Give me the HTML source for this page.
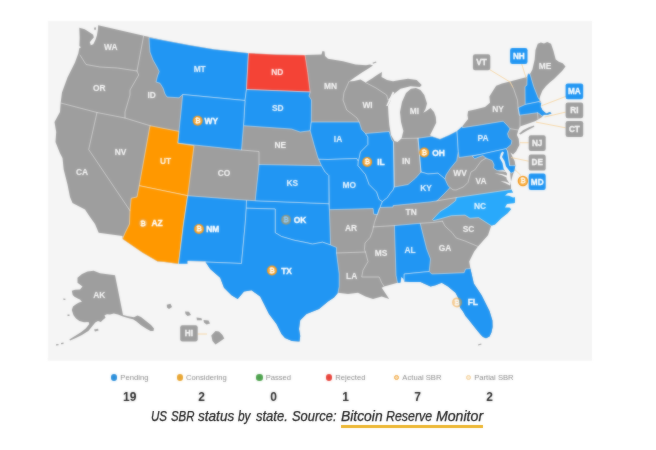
<!DOCTYPE html>
<html lang="en"><head><meta charset="utf-8"><title>US SBR status by state</title>
<style>

html,body{margin:0;padding:0;background:#fff;}
body{width:656px;height:450px;position:relative;overflow:hidden;font-family:"Liberation Sans",sans-serif;}
.map{position:absolute;left:0;top:0;width:656px;height:450px;}
.map svg{display:block;}
.soft{filter:url(#soft);}
.st{font:bold 8.4px "Liberation Sans",sans-serif;fill:#fff;text-anchor:middle;stroke:#fff;stroke-width:.35px;}
.sg{fill-opacity:.88;stroke-opacity:.35;}
.bx{font:bold 8.2px "Liberation Sans",sans-serif;fill:#fff;text-anchor:middle;stroke:#fff;stroke-width:.3px;}
.bt{font:bold 6.8px "Liberation Sans",sans-serif;fill:#fff;text-anchor:middle;}
.bd{fill:none;stroke:#fff;stroke-width:.55;stroke-opacity:.8;stroke-linejoin:round;stroke-linecap:round;}
.cs{stroke:#fff;stroke-width:.55;stroke-opacity:.8;stroke-linejoin:round;}
.cn{fill:none;stroke:#f6cf94;stroke-width:.8;}
.legend{filter:url(#soft);}
.caption{filter:url(#soft2);-webkit-text-stroke:.25px #222;}
.legend{position:absolute;left:93.7px;top:371px;width:432px;height:36px;display:flex;}
.legend .it{width:72px;text-align:center;}
.legend .lb{font-size:7.65px;line-height:13px;height:13px;color:#8c8c8c;white-space:nowrap;display:flex;align-items:center;justify-content:center;}
.legend .dot{display:inline-block;width:6.4px;height:6.4px;border-radius:50%;margin-right:3px;flex:none;}
.legend .ring{display:inline-block;width:3.4px;height:3.4px;border-radius:50%;border:1.7px solid;margin-right:3px;flex:none;background:#fff;}
.legend .ct{font-weight:bold;font-size:12px;line-height:14px;color:#222;margin-top:5.6px;}
.caption{position:absolute;left:0;top:405.4px;width:656px;height:24px;margin:0;font-style:italic;font-size:14px;line-height:22px;color:#222;white-space:nowrap;}
.caption .w{position:absolute;top:0;transform-origin:0 50%;display:block;}
.caption a{color:#222;text-decoration:none;}
.caption .ul{position:absolute;left:341.2px;top:19.8px;width:142.2px;height:2.6px;background:#ecb52e;display:block;}

</style></head><body>
<div class="map">
<svg width="656" height="450" viewBox="0 0 656 450">
<defs><clipPath id="us"><path d="M79.3 27.8 L84.7 29.2 L89.5 32.2 L93.2 34.8 L93.8 37.5 L91.5 40 L89.8 42.3 L90.8 45.2 L93.3 44.2 L95.4 40 L96.9 35.6 L97.9 29.7 L98.2 25.3 L143.7 35.7 L164 40.3 L189 45 L214 49.2 L247.7 53 L276.5 54.5 L305 55 L321.5 54.5 L322.5 51 L324.5 51.5 L325 56 L328 58.7 L343 61.2 L355.5 64.5 L366 65.2 L370 64.6 L373 65.4 L368 68.8 L362 72.5 L355 77.2 L349 81.5 L354 81 L360.5 79.5 L365.5 82.5 L372 78.5 L377 75 L382 72 L381.5 77 L387 80 L393 81.2 L400 80 L408 78.7 L416.7 80 L421.7 85 L420 87 L410.5 86.2 L400.5 88.7 L395 93 L391.7 96.2 L388 100 L391 100 L389.5 103 L388 106 L388.5 115 L389.3 125 L391 135 L394.5 141 L397.5 142 L401.5 138.5 L403.4 131 L401 122 L400 112 L402 102 L406 93 L411 88.8 L416 88 L420.5 90 L424.3 95 L427 103.5 L425.5 109 L423.3 112.8 L426 111.3 L430.5 108 L434 112 L435.8 117 L436.2 122.7 L432.5 130.2 L430 135.2 L432.5 136.5 L440 139 L448.7 135.2 L456.9 130.9 L462.5 125.9 L468.1 119 L467.5 115.2 L468.1 110.9 L475 109.6 L485 107.1 L490 102.7 L489.4 96.5 L492.5 91.5 L496.2 85.8 L502 83.5 L510 81.5 L526.9 77.1 L528.1 73.4 L530 74 L532.4 69.5 L534.7 59.4 L535.5 50 L537.8 43.8 L540.9 42.5 L544 43.5 L547.2 41.9 L551 43.8 L553.4 50.8 L555.7 59.4 L558.8 61.7 L562.7 63.3 L565.5 66.4 L562.5 70.5 L558 75 L554 79 L550 82.2 L546 86 L542.3 90.8 L540.2 96 L539.5 98.7 L540 100.2 L541.2 102.7 L540.6 106.5 L542.5 110.2 L546.2 113.4 L550 112 L551.5 113.4 L547.5 114.8 L543.7 114.8 L542 117 L538.1 119.4 L535 121.2 L520 126.5 L518.5 129.5 L516.9 135 L518.7 138.7 L519.4 145 L516.2 151.2 L513.1 154.4 L508.7 151.2 L507.2 149 L508.5 148.7 L511 153.7 L514.7 161.2 L515.4 165.6 L514.5 170 L512.5 176 L511 181.5 L511 185 L511 188.7 L515 197 L515 202 L511.2 208.9 L507.5 213.2 L501.2 218.2 L495 224.5 L491.2 225.7 L488 235.2 L478 246.5 L474.2 251.5 L469.2 261.5 L470.5 269 L473.8 283.5 L481.6 295.3 L489.5 311 L492.4 320.5 L492.6 327 L491.4 332.5 L489.5 336.5 L486 338.2 L483 337 L480.5 334.5 L476.8 330 L472.8 325 L468.5 319.5 L465.5 316 L463 311.5 L460 307.5 L458.8 299 L455.5 292.7 L448 286.5 L441.7 282.7 L435.5 285.2 L430.5 286.5 L420.5 282 L410.5 282 L404.2 281.5 L402.5 278 L400.5 282.7 L397.5 282.7 L384.2 286.5 L381.7 287.7 L384.2 291.5 L389.2 299 L381.7 296.5 L373 299 L365.5 296.5 L358 292.7 L348 294 L338 292.7 L334 297.5 L328 301.5 L319 309 L306.5 314 L300.2 320.2 L299 329 L300.2 336 L299.5 341.5 L292 341 L285 338 L281.5 334 L276.5 324 L269 314 L264 304 L260.2 296.5 L251.5 290.2 L244 291.5 L237.7 299 L231.5 295.2 L224 287.7 L220.2 277.7 L210.2 269 L205.2 261.5 L187.7 261 L187.5 264 L178.5 264 L164 262 L157.5 261.5 L142.5 252.7 L122.5 239 L122.5 236 L98.7 232.7 L95 224 L90 217 L85 209.5 L72.5 203 L70 197 L67.5 184.5 L63.7 169.5 L62.5 158 L60 153.2 L55.5 142 L56.2 132 L54.5 122 L60 112 L60.7 102.5 L62 92.5 L67.5 77.5 L75 62.5 L78.3 53.5 L79.3 48.3 L81 47.2 L79.4 46 L79.7 37.5Z"/></clipPath><filter id="soft" x="-2%" y="-2%" width="104%" height="104%" color-interpolation-filters="sRGB"><feGaussianBlur in="SourceGraphic" stdDeviation="0.85" result="b"/><feComposite in="SourceGraphic" in2="b" operator="arithmetic" k1="0" k2="0.5" k3="0.5" k4="0"/></filter><filter id="soft2" x="-2%" y="-20%" width="104%" height="140%" color-interpolation-filters="sRGB"><feGaussianBlur in="SourceGraphic" stdDeviation="0.85" result="b"/><feComposite in="SourceGraphic" in2="b" operator="arithmetic" k1="0" k2="0.72" k3="0.28" k4="0"/></filter></defs>
<g class="soft">
<rect x="47.8" y="20.9" width="544.2" height="339.9" fill="#f5f5f5"/>
<g fill="#9e9e9e">
<path d="M79.3 27.8 L84.7 29.2 L89.5 32.2 L93.2 34.8 L93.8 37.5 L91.5 40 L89.8 42.3 L90.8 45.2 L93.3 44.2 L95.4 40 L96.9 35.6 L97.9 29.7 L98.2 25.3 L143.7 35.7 L164 40.3 L189 45 L214 49.2 L247.7 53 L276.5 54.5 L305 55 L321.5 54.5 L322.5 51 L324.5 51.5 L325 56 L328 58.7 L343 61.2 L355.5 64.5 L366 65.2 L370 64.6 L373 65.4 L368 68.8 L362 72.5 L355 77.2 L349 81.5 L354 81 L360.5 79.5 L365.5 82.5 L372 78.5 L377 75 L382 72 L381.5 77 L387 80 L393 81.2 L400 80 L408 78.7 L416.7 80 L421.7 85 L420 87 L410.5 86.2 L400.5 88.7 L395 93 L391.7 96.2 L388 100 L391 100 L389.5 103 L388 106 L388.5 115 L389.3 125 L391 135 L394.5 141 L397.5 142 L401.5 138.5 L403.4 131 L401 122 L400 112 L402 102 L406 93 L411 88.8 L416 88 L420.5 90 L424.3 95 L427 103.5 L425.5 109 L423.3 112.8 L426 111.3 L430.5 108 L434 112 L435.8 117 L436.2 122.7 L432.5 130.2 L430 135.2 L432.5 136.5 L440 139 L448.7 135.2 L456.9 130.9 L462.5 125.9 L468.1 119 L467.5 115.2 L468.1 110.9 L475 109.6 L485 107.1 L490 102.7 L489.4 96.5 L492.5 91.5 L496.2 85.8 L502 83.5 L510 81.5 L526.9 77.1 L528.1 73.4 L530 74 L532.4 69.5 L534.7 59.4 L535.5 50 L537.8 43.8 L540.9 42.5 L544 43.5 L547.2 41.9 L551 43.8 L553.4 50.8 L555.7 59.4 L558.8 61.7 L562.7 63.3 L565.5 66.4 L562.5 70.5 L558 75 L554 79 L550 82.2 L546 86 L542.3 90.8 L540.2 96 L539.5 98.7 L540 100.2 L541.2 102.7 L540.6 106.5 L542.5 110.2 L546.2 113.4 L550 112 L551.5 113.4 L547.5 114.8 L543.7 114.8 L542 117 L538.1 119.4 L535 121.2 L520 126.5 L518.5 129.5 L516.9 135 L518.7 138.7 L519.4 145 L516.2 151.2 L513.1 154.4 L508.7 151.2 L507.2 149 L508.5 148.7 L511 153.7 L514.7 161.2 L515.4 165.6 L514.5 170 L512.5 176 L511 181.5 L511 185 L511 188.7 L515 197 L515 202 L511.2 208.9 L507.5 213.2 L501.2 218.2 L495 224.5 L491.2 225.7 L488 235.2 L478 246.5 L474.2 251.5 L469.2 261.5 L470.5 269 L473.8 283.5 L481.6 295.3 L489.5 311 L492.4 320.5 L492.6 327 L491.4 332.5 L489.5 336.5 L486 338.2 L483 337 L480.5 334.5 L476.8 330 L472.8 325 L468.5 319.5 L465.5 316 L463 311.5 L460 307.5 L458.8 299 L455.5 292.7 L448 286.5 L441.7 282.7 L435.5 285.2 L430.5 286.5 L420.5 282 L410.5 282 L404.2 281.5 L402.5 278 L400.5 282.7 L397.5 282.7 L384.2 286.5 L381.7 287.7 L384.2 291.5 L389.2 299 L381.7 296.5 L373 299 L365.5 296.5 L358 292.7 L348 294 L338 292.7 L334 297.5 L328 301.5 L319 309 L306.5 314 L300.2 320.2 L299 329 L300.2 336 L299.5 341.5 L292 341 L285 338 L281.5 334 L276.5 324 L269 314 L264 304 L260.2 296.5 L251.5 290.2 L244 291.5 L237.7 299 L231.5 295.2 L224 287.7 L220.2 277.7 L210.2 269 L205.2 261.5 L187.7 261 L187.5 264 L178.5 264 L164 262 L157.5 261.5 L142.5 252.7 L122.5 239 L122.5 236 L98.7 232.7 L95 224 L90 217 L85 209.5 L72.5 203 L70 197 L67.5 184.5 L63.7 169.5 L62.5 158 L60 153.2 L55.5 142 L56.2 132 L54.5 122 L60 112 L60.7 102.5 L62 92.5 L67.5 77.5 L75 62.5 L78.3 53.5 L79.3 48.3 L81 47.2 L79.4 46 L79.7 37.5Z"/>
<path d="M519 133.8 L523 130.3 L529 127.3 L534 125.4 L534.3 126.8 L527 130.6 L520.5 134.4Z"/>
<path d="M77.5 277.7 L82 274 L87.5 271.5 L93.7 270.7 L100 273.2 L115 275.2 L118 290 L123 315 L128 316.3 L134 317.3 L137.5 315.5 L141 317 L146 321 L151 325 L154 328.5 L153.5 331 L150.5 331 L146 328.5 L141 325.3 L136.5 321.5 L133 319.3 L128 318 L123 316.6 L118 314.5 L113.8 313.5 L110 314.5 L107 314.3 L104.5 315.3 L105.5 317.8 L102.8 320 L100.8 322 L98 321 L95.3 322.5 L92 326.5 L88.6 330.8 L81.9 335 L75.2 338.3 L70.1 340.6 L69.3 339.4 L75 336 L81 332.3 L86 328.3 L89.3 324 L88.6 321.9 L84 322.2 L79.4 321 L76 318.5 L73.5 315.2 L71.8 310.1 L73 306.5 L76 304.3 L79 302.5 L81.9 301.7 L80 299.5 L77.7 298.4 L74.5 296.8 L72.7 295 L71.8 290.8 L75 289.8 L80 289.5 L82.5 286.5 L77.5 282.7Z"/>
<path d="M166.8 304.8 L170.5 303.8 L172 307 L169 309 L167 307.5Z"/>
<path d="M185 311.5 L189 311.8 L191 315 L187.5 316 L185.5 314Z"/>
<path d="M196.5 317.5 L201.5 318.2 L202 320.3 L197 320.2Z"/>
<path d="M203.5 320 L208.5 320.5 L210 323.5 L206.5 324.5 L204 322.5Z"/>
<path d="M215.5 331 L219 331.5 L222.5 335 L224.3 338.5 L220 341.5 L215.5 344.5 L212.5 341 L211.3 335.5Z"/>
<path d="M94 27.8 L95.8 27.3 L96.1 29.4 L94.5 29.9Z"/>
<path d="M372.5 62.8 L376 61.5 L376.5 62.5 L373 63.8Z"/>
<path d="M94 329.6 L98 328.8 L98.6 330.6 L95 331.6Z"/>
<path d="M67.5 314.5 L69.5 314.5 L69.5 316 L67.5 316Z"/>
<path d="M63.3 298.6 L65.5 298.8 L65.3 300 L63.3 299.8Z"/>
<path d="M61 343 L63.5 342.6 L63.5 344 L61 344.2Z"/>
<path d="M56 344.3 L58.5 344 L58.5 345.2 L56 345.4Z"/>
<path d="M478 344.6 L481.2 343.4 L481.5 344.6 L478.3 345.6Z"/>
</g>
<g clip-path="url(#us)">
<path class="cs" fill="#2196f3" d="M149 37.5 L164 40.3 L189 45 L214 49.2 L248.5 53 L246.5 89.5 L245 100.5 L182.7 94.5 L179 97.8 L167 97 L165 94 L163 88 L160 83.2 L156 82 L157.5 76 L159.2 71.5 L157 67 L153 60 L150 52 L149.4 45Z"/>
<path class="cs" fill="#f44336" d="M248.5 53 L276.5 54.5 L305 55 L307.7 72.5 L310 91 L310.2 92 L246.5 89.5Z"/>
<path class="cs" fill="#2196f3" d="M246.5 89.5 L310.2 92 L309 96 L311.5 100 L311.3 122 L310.2 130.7 L300.2 132 L291.5 129 L243.5 125.7 L245 100.5Z"/>
<path class="cs" fill="#2196f3" d="M182.7 94.5 L245 100.5 L243.5 125.7 L241.5 150 L177.7 143.2 L181 112Z"/>
<path class="cs" fill="#ff9800" d="M150 125.7 L164 128.5 L178.9 131.4 L177.7 143.2 L194 145.7 L187.7 195.7 L139.2 185.7Z"/>
<path class="cs" fill="#ff9800" d="M139.2 185.7 L187.7 195.7 L183.5 224 L178.5 264 L164 262 L157.5 261.5 L142.5 252.7 L122.5 239 L125 233 L129.5 224 L130 210.7 L131.2 198.2 L137 197Z"/>
<path class="cs" fill="#2196f3" d="M187.7 195.7 L246.5 200.2 L246.3 208.2 L245.2 224 L241.5 263.5 L205.2 262 L205.2 261.5 L187.7 261 L187.5 264 L178.5 264 L183.5 224Z"/>
<path class="cs" fill="#2196f3" d="M246.5 200.2 L255.2 200.7 L329 203.7 L329.4 209.7 L330.6 245 L322.5 242.2 L312.5 244.1 L306.5 242.7 L294 240.2 L281.5 236.5 L275.2 232.7 L275.2 209 L246.3 208.2Z"/>
<path class="cs" fill="#2196f3" d="M246.3 208.2 L275.2 209 L275.2 232.7 L281.5 236.5 L294 240.2 L306.5 242.7 L312.5 244.1 L322.5 242.2 L330.6 245 L336.5 247.5 L336.5 253 L337 257 L339.2 274 L339.2 286.5 L338 292.7 L338 300 L320 330 L300 350 L280 345 L260 310 L237 305 L215 282 L200 265 L205.2 261.5 L205.2 262 L241.5 263.5 L245.2 224Z"/>
<path class="cs" fill="#2196f3" d="M259 164.5 L321.5 165.7 L325.2 172 L328 174.5 L329 175.5 L329 203.7 L255.2 200.7Z"/>
<path class="cs" fill="#2196f3" d="M311.3 122 L359.2 122 L361.7 129.5 L365.5 133.5 L368 137 L368 144.5 L360.5 152 L359.2 158.2 L358.3 161.5 L356.7 158.5 L328 159.5 L318.7 159.3 L317.7 157 L314 144.5 L310.2 130.7Z"/>
<path class="cs" fill="#2196f3" d="M318.7 159.3 L328 159.5 L356.7 158.5 L358.3 161.5 L358 165.7 L365.5 174.5 L369.2 184.5 L376.7 192 L379.2 199.5 L382.5 201.5 L380 207.5 L379.4 208.5 L377.5 214.7 L373.7 214.1 L373.1 208.5 L329.4 209.7 L329 175.5 L328 174.5 L325.2 172 L321.5 165.7Z"/>
<path class="cs" fill="#2196f3" d="M365.5 133.5 L389.2 131.5 L391.7 139.5 L393.5 142 L394.2 184.5 L394.2 187 L393.1 190 L390 193.7 L387.5 197.5 L382.5 201.5 L379.2 199.5 L376.7 192 L369.2 184.5 L365.5 174.5 L358 165.7 L358.3 161.5 L359.2 158.2 L360.5 152 L368 144.5 L368 137Z"/>
<path class="cs" fill="#2196f3" d="M418 138.2 L430.5 136.5 L432.5 136.5 L440 139 L448.7 135.2 L457 130.9 L458.3 151.5 L457.5 156 L456.7 160.7 L450.5 168.2 L446 175 L445 179 L438 173.2 L428 174 L421 172Z"/>
<path class="cs" fill="#2196f3" d="M393.1 190 L394.2 187 L408 184.5 L415.5 178.2 L421 172 L428 174 L438 173.2 L445 179 L448 185.7 L450 187.6 L444 194 L437 200.8 L430 201.9 L393.1 205.6 L393.1 207 L380 207.5 L382.5 201.5 L387.5 197.5 L390 193.7Z"/>
<path class="cs" fill="#2196f3" d="M457 130.9 L462.5 125.9 L462.5 127.7 L480 125 L503.1 121.2 L506.9 125 L510 128.7 L507.5 133.7 L508.7 137.5 L511.9 140.6 L511.2 144.4 L506.2 148.7 L481 154.4 L459.1 157.5 L458.3 151.5Z"/>
<path class="cs" fill="#2196f3" d="M472.2 156.2 L506 148.7 L507.5 151 L509.7 165.6 L515.4 165.6 L516 171 L511.5 173 L508.5 171.9 L504.7 170 L497.2 170.6 L493.5 168.1 L494.1 165 L492.2 160.6 L486 158.1 L482.9 155.6 L479.1 156.9 L474.7 158.7Z"/>
<path class="cs" fill="#29a9fb" d="M456.2 197.6 L511.2 189.5 L520 192 L520 205 L500 228 L491.2 225.7 L478.7 217.6 L470 218.2 L465 215.1 L451.2 215.7 L440 218.9 L433.7 220.6 L432.5 219.5 L440 211.5 L447.5 207 L455.6 200.7Z"/>
<path class="cs" fill="#2196f3" d="M394.4 225.6 L420.2 223.3 L426.7 249 L430.5 259 L429.2 271.5 L404.2 274 L404.2 286 L397.5 286 L397.5 282.7 L396 275.2Z"/>
<path class="cs" fill="#2196f3" d="M404.2 274 L429.2 271.5 L431.7 274 L464.2 272.7 L465.5 269 L470.5 268.5 L500 270 L500 345 L404.2 345Z"/>
<path class="cs" fill="#2196f3" d="M528.1 73.4 L530 74 L533.7 86.5 L538.1 97.7 L540 100.2 L538.7 101.7 L525.2 104.5 L525 86.5 L526.9 85.2 L527.2 76.5Z"/>
<path class="cs" fill="#2196f3" d="M518.1 107.7 L525.2 104.5 L538.7 101.7 L541.2 102.7 L545 104 L553 111 L553 116 L543.7 116 L542 116 L539 113.5 L537.5 112.7 L519.4 115.2Z"/>
<path class="bd" d="M80 55 L86 64.5 L100 67 L117.5 68 L137 71"/>
<path class="bd" d="M143.7 35.7 L137 71 L138.7 75 L130 90 L130 95 L125 112 L125 118"/>
<path class="bd" d="M60.7 103 L87.5 110 L97 112.5 L125 118 L150 125.7"/>
<path class="bd" d="M97 112.5 L88.7 149.5 L130 210.7"/>
<path class="bd" d="M241.5 150 L259 151.5 L259 164.5"/>
<path class="bd" d="M349 81.5 L344 92.5 L343 100 L346.7 110 L352 114 L357 118 L359.2 122"/>
<path class="bd" d="M365.5 82.5 L376 88 L386.7 95 L388 100"/>
<path class="bd" d="M401.5 138.5 L418 138.2"/>
<path class="bd" d="M418 138.2 L421 172"/>
<path class="bd" d="M393.5 142 L394.2 187"/>
<path class="bd" d="M336.5 253 L365.5 252"/>
<path class="bd" d="M379.4 208.5 L377.5 213.7 L374.4 222.5 L372.5 231.2 L370 237.5 L365 243 L364.4 249.7 L365.5 252 L368 261.5 L363 270.2 L361.7 277 L379.2 277 L381.7 282.7 L384.2 286.5"/>
<path class="bd" d="M373.1 226.9 L394.4 225.6"/>
<path class="bd" d="M420.2 223.3 L432.5 222.5 L442.5 221.2"/>
<path class="bd" d="M442.5 221.2 L445 226.2 L452 232.5 L456.2 238 L465 241 L478 246.5"/>
<path class="bd" d="M437 200.8 L456.2 197.6"/>
<path class="bd" d="M450 187.6 L453 189.8 L456 190 L463.5 186.9 L467.9 182.5 L471 171.9 L474.7 170 L481 161.2 L486 158.1"/>
<path class="bd" d="M510 81.5 L513.7 89 L517.5 100.2 L518.1 107.7 L519.4 115.2 L520 116.5 L520 126.5"/>
<path class="bd" d="M510 128.7 L518.1 130"/>
<path class="bd" d="M537.5 112.7 L538.1 119.4"/>
<path class="bd" d="M507.5 151 L509.7 165.6"/>
</g>
<g fill="#f5f5f5">
<path d="M502.3 151.5 L504 152.5 L502 157 L504.5 161 L506 166.5 L510 171.5 L510.5 177 L511 181.5 L510.3 184.5 L506.5 179 L507 173.5 L503.5 168.5 L502.5 163 L499.7 158 L500.8 153.5Z"/>
<path d="M508.3 172.5 L503 170.3 L498 171.3 L503 171.6Z"/>
<path d="M392.8 91.5 L390.5 96.5 L388.3 101 L386.2 106 L387.6 106 L390 102 L392.3 97.5 L394.3 92.5Z"/>
<path d="M508.3 176 L502 174 L494.5 173.2 L502 175.2 L507.5 178Z"/>
<path d="M510.5 183.6 L505 181.6 L500.5 181.2 L505 183 L510 185.5Z"/>
<path d="M401.3 277 L403.5 279 L404.2 283 L400.5 283.5Z"/>
<path d="M516 192.5 L508 193 L505 195.5 L509 195.8 L513 197.5 L516 197Z"/>
<path d="M515.5 203 L507 204 L505 207.5 L509.5 207.5 L511.5 209.5Z"/>
</g>
<path class="cn" d="M490 69.8 L510 82 L513 87.5"/>
<path class="cn" d="M521.7 64 L526.3 78.5"/>
<path class="cn" d="M565.6 96.5 L541.7 105.7"/>
<path class="cn" d="M565.6 112.1 L544.5 117.1"/>
<path class="cn" d="M565.6 127.8 L536 122.1"/>
<path class="cn" d="M528.7 142.7 L520 142.7"/>
<path class="cn" d="M528.7 161.2 L511 157.5"/>
<path class="cn" d="M521 175.5 L514.7 169.4"/>
<path class="cn" d="M197.7 334 L207 334"/>
<rect x="472.9" y="54.2" width="17.4" height="16.1" rx="2.2" ry="2.2" fill="#9e9e9e"/>
<text class="bx" x="481.6" y="65.15" fill-opacity=".88">VT</text>
<rect x="510.1" y="48" width="17.4" height="16" rx="2.2" ry="2.2" fill="#2196f3"/>
<text class="bx" x="518.8" y="58.9">NH</text>
<rect x="565.6" y="83.4" width="17.6" height="15.9" rx="2.2" ry="2.2" fill="#2196f3"/>
<text class="bx" x="574.4" y="94.25">MA</text>
<rect x="565.6" y="102.5" width="17.6" height="15.8" rx="2.2" ry="2.2" fill="#9e9e9e"/>
<text class="bx" x="574.4" y="113.3" fill-opacity=".88">RI</text>
<rect x="565.6" y="121.1" width="17.6" height="15.9" rx="2.2" ry="2.2" fill="#9e9e9e"/>
<text class="bx" x="574.4" y="131.95" fill-opacity=".88">CT</text>
<rect x="528.7" y="135.3" width="17" height="15.7" rx="2.2" ry="2.2" fill="#9e9e9e"/>
<text class="bx" x="537.2" y="146.05" fill-opacity=".88">NJ</text>
<rect x="528.7" y="154.5" width="17" height="16.1" rx="2.2" ry="2.2" fill="#9e9e9e"/>
<text class="bx" x="537.2" y="165.45" fill-opacity=".88">DE</text>
<rect x="528.7" y="173.6" width="17" height="16.3" rx="2.2" ry="2.2" fill="#2196f3"/>
<text class="bx" x="537.2" y="184.65">MD</text>
<rect x="180.2" y="325.2" width="17.5" height="16.3" rx="2.2" ry="2.2" fill="#9e9e9e"/>
<text class="bx" x="188.95" y="336.25" fill-opacity=".88">HI</text>
<text class="st sg" x="110.7" y="49.7">WA</text>
<text class="st sg" x="99.2" y="91">OR</text>
<text class="st sg" x="151.7" y="97.5">ID</text>
<text class="st sg" x="199.7" y="72.2">MT</text>
<text class="st sg" x="277.2" y="75">ND</text>
<text class="st sg" x="277.7" y="111">SD</text>
<text class="st sg" x="120.5" y="155">NV</text>
<text class="st sg" x="82" y="175">CA</text>
<text class="st sg" x="165.5" y="163.7">UT</text>
<text class="st sg" x="224" y="175.7">CO</text>
<text class="st sg" x="280.2" y="147.5">NE</text>
<text class="st sg" x="292.2" y="186.2">KS</text>
<text class="st sg" x="330.5" y="89.2">MN</text>
<text class="st sg" x="367.5" y="108">WI</text>
<text class="st sg" x="414.5" y="114">MI</text>
<text class="st sg" x="338" y="142">IA</text>
<text class="st sg" x="406.2" y="164.2">IN</text>
<text class="st sg" x="483" y="140.7">PA</text>
<text class="st sg" x="349.2" y="188.2">MO</text>
<text class="st sg" x="426" y="190.7">KY</text>
<text class="st sg" x="460" y="175.7">WV</text>
<text class="st sg" x="481" y="184.2">VA</text>
<text class="st sg" x="411.2" y="215">TN</text>
<text class="st sg" x="480" y="209.2">NC</text>
<text class="st sg" x="351" y="230.9">AR</text>
<text class="st sg" x="381" y="255.7">MS</text>
<text class="st sg" x="410" y="253.2">AL</text>
<text class="st sg" x="445" y="251.2">GA</text>
<text class="st sg" x="468.5" y="231.5">SC</text>
<text class="st sg" x="351.7" y="279">LA</text>
<text class="st sg" x="99.2" y="297.5">AK</text>
<text class="st sg" x="545" y="69.2">ME</text>
<text class="st sg" x="498" y="111.7">NY</text>
<g><circle cx="197.7" cy="120.8" r="5" fill="#f3971d"/><circle cx="197.7" cy="120.8" r="3.7" fill="#f9b54e"/><text class="bt" x="197.7" y="123.2">₿</text></g>
<text class="st" x="211.3" y="123.8">WY</text>
<g><circle cx="143.1" cy="223.2" r="5" fill="#f3971d"/><circle cx="143.1" cy="223.2" r="3.7" fill="#f9b54e"/><text class="bt" x="143.1" y="225.6">₿</text></g>
<text class="st" x="157" y="226.2">AZ</text>
<g><circle cx="199" cy="229" r="5" fill="#f3971d"/><circle cx="199" cy="229" r="3.7" fill="#f9b54e"/><text class="bt" x="199" y="231.4">₿</text></g>
<text class="st" x="212.7" y="232">NM</text>
<g><circle cx="272" cy="270.5" r="5" fill="#f3971d"/><circle cx="272" cy="270.5" r="3.7" fill="#f9b54e"/><text class="bt" x="272" y="272.9">₿</text></g>
<text class="st" x="286.5" y="273.5">TX</text>
<g opacity=".5"><circle cx="286.1" cy="219.7" r="5" fill="#f3971d"/><circle cx="286.1" cy="219.7" r="3.7" fill="#f9b54e"/><text class="bt" x="286.1" y="222.1">₿</text></g>
<text class="st" x="300" y="222.7">OK</text>
<g><circle cx="367.2" cy="162" r="5" fill="#f3971d"/><circle cx="367.2" cy="162" r="3.7" fill="#f9b54e"/><text class="bt" x="367.2" y="164.4">₿</text></g>
<text class="st" x="381" y="165">IL</text>
<g><circle cx="424.2" cy="152.5" r="5" fill="#f3971d"/><circle cx="424.2" cy="152.5" r="3.7" fill="#f9b54e"/><text class="bt" x="424.2" y="154.9">₿</text></g>
<text class="st" x="438.5" y="155.5">OH</text>
<g opacity=".5"><circle cx="457.1" cy="302.4" r="5" fill="#f3971d"/><circle cx="457.1" cy="302.4" r="3.7" fill="#f9b54e"/><text class="bt" x="457.1" y="304.8">₿</text></g>
<text class="st" x="472.8" y="305.4">FL</text>
<g><circle cx="522.9" cy="181" r="5.2" fill="#f3971d"/><circle cx="522.9" cy="181" r="3.9" fill="#f9b54e"/><text class="bt" x="522.9" y="183.4">₿</text></g>
</g></svg></div>
<div class="legend">
<div class="it"><div class="lb"><span class="dot" style="background:#2b8fdb"></span><span>Pending</span></div><div class="ct">19</div></div>
<div class="it"><div class="lb"><span class="dot" style="background:#e8a633"></span><span>Considering</span></div><div class="ct">2</div></div>
<div class="it"><div class="lb"><span class="dot" style="background:#4ea24e"></span><span>Passed</span></div><div class="ct">0</div></div>
<div class="it"><div class="lb"><span class="dot" style="background:#e8453c"></span><span>Rejected</span></div><div class="ct">1</div></div>
<div class="it"><div class="lb"><span class="ring" style="border-color:#f0a53a;background:#f0a53a66"></span><span>Actual SBR</span></div><div class="ct">7</div></div>
<div class="it"><div class="lb"><span class="ring" style="border-color:#f4cf95;background:#f4cf9566"></span><span>Partial SBR</span></div><div class="ct">2</div></div>
</div>
<p class="caption"><span class="w" style="left:151.07px;transform:scaleX(0.8274)">US</span> <span class="w" style="left:170.79px;transform:scaleX(0.8144)">SBR</span> <span class="w" style="left:197.70px;transform:scaleX(0.9703)">status</span> <span class="w" style="left:237.79px;transform:scaleX(0.8459)">by</span> <span class="w" style="left:255.90px;transform:scaleX(0.9292)">state.</span> <span class="w" style="left:292.34px;transform:scaleX(0.9228)">Source:</span> <a class="src"><span class="w" style="left:340.70px;transform:scaleX(0.9902)">Bitcoin</span> <span class="w" style="left:386.06px;transform:scaleX(0.8839)">Reserve</span> <span class="w" style="left:436.00px;transform:scaleX(1.0086)">Monitor</span><i class="ul"></i></a></p>
</body></html>
